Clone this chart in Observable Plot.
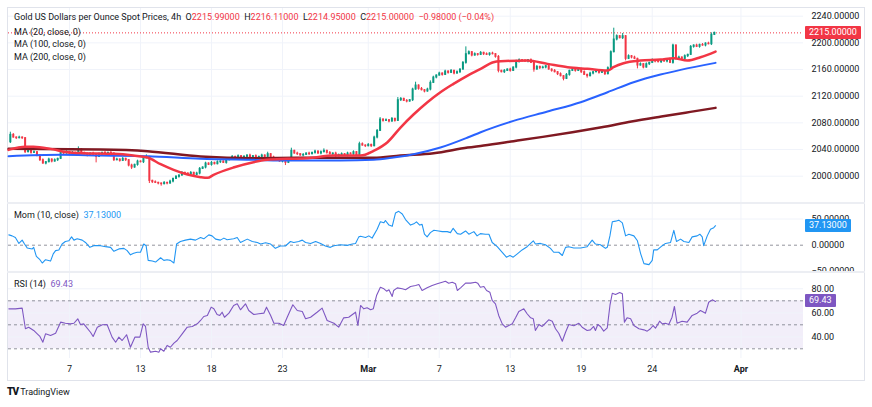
<!DOCTYPE html>
<html><head><meta charset="utf-8">
<script src="https://cdn.jsdelivr.net/npm/d3@7"></script>
<script src="https://cdn.jsdelivr.net/npm/@observablehq/plot@0.6"></script>
<style>
html,body{margin:0;padding:0;background:#fff;}
#wrap{position:relative;width:872px;height:407px;overflow:hidden;background:#fff;font-family:Roboto,"Liberation Sans",Arial,sans-serif;color:#131722;}
.pane{position:absolute;left:0;}
.pane svg{display:block;overflow:hidden;}
.lbl{position:absolute;font-size:9px;line-height:11px;white-space:nowrap;color:#131722;}
.box{position:absolute;left:805px;height:13px;line-height:13px;font-size:9px;color:#fff;padding:0 4px;border-radius:1px;}
.frame{position:absolute;left:7px;top:7px;width:858px;height:374px;box-sizing:border-box;border:1px solid #e0e3eb;}
.sep{position:absolute;left:7px;width:858px;height:2px;background:#eceef3;}
</style></head><body><div id="wrap"></div>
<script>
// ---- data ----
const firstOpen = 2051;
const closes = [
2062,2058,2057,2058,2057,2036,2038,2035,2036,2031,
2024,2019,2021,2025,2022,2024,2026,2035,2034,2036,
2033,2035,2034,2040,2035,2033,2031,2034,2032,2029,
2033,2035,2034,2035,2034,2024,2025,2023,2026,2024,
2016,2013,2017,2022,2021,2027,2029,1993,1991,1990,
1989,1988,1990,1989,1992,1996,1999,2001,2005,2004,
2003,2005,2002,2004,2011,2013,2019,2017,2020,2018,
2021,2022,2020,2024,2026,2029,2028,2030,2027,2029,
2031,2028,2030,2027,2029,2031,2029,2033,2028,2026,
2024,2022,2023,2020,2024,2038,2034,2033,2031,2032,
2034,2033,2035,2037,2034,2036,2038,2035,2033,2034,
2030,2032,2033,2031,2034,2033,2036,2032,2048,2046,
2045,2047,2045,2058,2068,2085,2083,2084,2082,2086,
2083,2114,2116,2113,2112,2114,2130,2136,2131,2129,
2127,2130,2140,2148,2151,2154,2152,2157,2155,2158,
2154,2156,2160,2170,2183,2186,2181,2183,2182,2185,
2183,2182,2184,2183,2179,2158,2156,2158,2160,2158,
2163,2171,2174,2173,2172,2174,2170,2160,2164,2162,
2163,2165,2160,2158,2156,2153,2150,2146,2152,2158,
2160,2158,2161,2156,2152,2150,2154,2156,2157,2155,
2157,2153,2162,2186,2205,2210,2207,2210,2176,2180,
2178,2176,2166,2168,2163,2168,2170,2174,2172,2171,
2174,2172,2175,2170,2196,2176,2178,2176,2180,2182,
2194,2196,2194,2197,2196,2199,2198,2212,2215];
const upWick = [
4,2,1,2,1,1,2,1,2,1, 1,2,1,2,1,2,1,2,1,2, 1,2,1,4,1,1,2,1,2,1, 2,1,2,1,2,1,2,1,2,1,
1,2,1,2,1,2,3,1,1,2, 1,1,2,1,2,1,2,1,2,1, 1,2,1,2,2,1,2,1,2,1, 2,1,1,2,1,2,1,2,1,2,
1,2,1,2,1,2,1,3,1,2, 1,2,1,1,2,4,1,2,1,2, 1,2,1,2,1,2,3,1,2,1, 2,1,2,1,2,1,2,1,3,2,
1,2,1,2,2,3,1,2,1,2, 1,4,2,1,2,1,2,5,1,2, 1,2,3,2,1,2,1,2,1,2, 1,2,1,2,11,2,1,2,1,2,
1,2,1,2,1,2,1,2,1,2, 1,3,2,1,2,1,2,1,2,1, 2,1,2,1,2,1,2,1,2,1, 2,1,2,1,2,1,2,1,2,1,
2,1,2,2,17,2,1,4,1,2, 1,2,1,2,1,2,1,2,1,2, 1,2,1,2,2,1,2,1,2,1, 2,1,2,1,2,1,2,3,1];
const downWick = [
2,1,2,1,2,2,1,2,1,2, 2,1,2,1,2,1,2,1,2,1, 2,1,2,1,2,1,2,1,2,9, 1,2,1,2,1,2,1,2,1,2,
2,3,1,2,1,2,1,4,2,1, 2,3,1,2,1,2,1,2,1,2, 2,1,2,1,2,1,2,1,2,1, 1,2,1,2,1,2,1,2,1,2,
2,1,2,1,2,1,2,1,2,1, 2,1,2,4,1,2,1,2,1,2, 1,2,1,2,1,2,1,2,1,2, 2,1,2,1,2,1,2,1,2,1,
2,1,2,1,2,1,2,1,2,1, 2,1,2,1,2,1,2,1,2,1, 2,1,2,1,2,1,2,1,2,1, 2,1,2,1,2,1,2,1,2,1,
2,1,2,1,2,3,1,2,1,2, 1,2,1,2,1,2,1,4,1,2, 1,2,1,2,1,2,1,3,1,2, 1,2,1,2,1,3,1,2,1,2,
1,2,1,2,1,2,1,2,3,1, 2,1,5,1,2,1,2,1,2,1, 2,1,2,1,2,2,1,2,1,2, 1,2,1,2,1,2,1,2,1];
const firstIndex = -20;

const ma20Idx = [-20.6,-14.9,-12.2,-6.4,-0.7,4.7,14.9,21.6,26.4,30.8,35.2,39.9,44.3,46.7,48.7,55.4,62.2,66.9,73.7,80.5,89.2,98.4,102.8,107.5,111.9,116.3,121,125.4,129.8,134.6,139,143.3,145.7,154.8,161.6,168.4,175.1,181.9,183.9,187.3,193,199.8,204.2,208.9,213.3,218.4];
const ma20Val = [2039.5,2044,2044,2041,2036,2034.5,2033.5,2031,2028,2018,2009.5,2002.5,1998.5,1997.5,2002,2013,2021,2024.5,2026,2027,2031,2031,2038,2051,2073,2092.5,2111,2126,2138.5,2151,2161,2171,2172.5,2173.5,2168.5,2163.5,2161,2158.5,2163.5,2169.5,2173.5,2175,2177,2173.5,2178.5,2187];
const ma100Idx = [-20.6,-3,10.5,26.4,44.3,62.2,74.7,91.6,102.8,109.5,116.3,125.4,134.6,139,150.1,161.6,172.8,181.9,190.7,199.8,206.6,218.4];
const ma100Val = [2030,2032,2031,2030,2026,2024.5,2023.5,2023.5,2024.5,2028,2033,2043,2058,2066,2083,2097,2111,2126,2141,2152.5,2159.5,2170];
const ma200Idx = [-20.6,10.5,26.4,44.3,62.2,78.1,102.8,111.9,123.1,134.6,140,150.1,160,170,179.9,190,200.1,209.9,218.4];
const ma200Val = [2041,2040,2037.5,2029.5,2027,2027.5,2027.5,2031,2034.5,2043,2046,2052.5,2059,2066,2073.5,2082,2089.5,2096.5,2102.5];

const momIdx = [-20.5,-19.4,-18.3,-17.1,-16,-15.2,-14.3,-12.6,-12.1,-11.2,-10,-9.2,-8.1,-6.4,-5.5,-4.7,-3.6,-2.5,-1.4,-0.2,0.7,1.5,2.6,4.3,5.4,6.9,8.2,10.5,12.2,13.9,15,16.7,18.4,19.5,20.6,21.7,22.9,24,25.1,25.9,26.6,28,29.1,30.8,31.9,33,34.1,35.3,36.2,37.5,39.2,40.9,42.6,44.3,45.4,47.1,48.2,49.4,51,52.2,53.3,55.5,56.7,57.8,60.1,61.8,63.5,64.6,66.3,68,69.6,71.3,73,74.7,75.8,77.5,78.7,79.8,81.5,83.2,84.9,86.5,88.2,89.4,91.6,93.9,95.6,96.7,97.8,
98.4,100.1,101.2,102.3,104,105.1,106.3,106.8,108,109.1,110.2,111.3,112.5,113.6,115.3,116.4,117.3,118.4,119.2,120,120.9,122,123.2,124.8,126,127.7,128.8,129.7,131.1,132.2,133.9,135,136.7,137.8,138.9,140.6,141.8,142.9,144.6,146.3,147.7,148.9,150,151.4,153,154.7,156.8,157.5,159.2,160.9,162.6,163.7,165.4,166.6,167.7,168.8,170.5,172.8,175,176.7,177.8,179.5,181.2,181.8,182.7,183.5,184.6,185.7,186.9,188,189.1,190.8,192,193.1,194.2,195.9,197,197.5,198.7,200.4,201.5,203.2,204.3,205.2,206.6,207.7,209.4,210.5,212.2,213.1,213.9,214.4,215.6,216.7,217.8,218.4];
const momVal = [19.7,17.8,14.6,3.4,9.7,2.2,-5.2,-7.1,-4.1,-21.5,-27.7,-34,-27.7,-30.3,-16.5,-10.3,-9,2.2,7.1,8.4,15.9,9.7,12.2,9.7,5.2,-4.1,-0.9,-0.9,-2.8,-4.1,-11.6,-7.1,-6,-10.3,-18.4,-15.4,-13.5,-13.5,2.2,-0.9,-29,-30.3,-32.2,-24,-29,-27.7,-29,-34,2.2,7.1,9.7,11.6,9.7,14.6,12.2,19.7,17.8,11.6,9.7,13.5,10.3,12.2,14.6,5.2,11.6,7.1,5.2,2.2,4.7,2.2,-6,-1.5,-1.5,7.1,5.2,7.1,9.7,5.2,3.4,7.1,3.4,-1.5,-4.1,-0.9,0.9,-0.3,2.2,3.4,15.9,
17,14.6,17.8,13.5,30.3,44.6,42.7,47.2,38.4,36,61.4,64.6,59.6,49,38.4,40.8,44.6,38.4,39.7,21,15.9,24,28.5,27.2,25.9,25.9,24,32.2,22.1,21,27.2,21,25.9,17.8,22.1,21,21,5.2,-2.8,-13.5,-22.8,-19.7,-22.8,-16.5,-9,-2.8,8.4,2.2,3.4,0.9,-6,-13.5,-13.5,-19.7,-4.1,-2.8,-5.2,-5.2,-2.8,9.7,2.2,0.9,-6,-4.1,17.8,44.6,45.9,47.8,42.7,17.8,21,17.8,8.4,-16.5,-35.2,-37.1,-29,-9,-9,-0.9,3.4,5.2,28.5,7.1,11.6,7.1,5.2,15.9,17.8,21,15.9,-0.9,17.8,30.3,33.5,37.13];

const rsiIdx = [-20.5,-18.3,-16,-15.7,-14.9,-13.8,-12.1,-10.9,-10,-9,-8.1,-6.4,-4.7,-3,-1.4,0.3,1.5,2.8,3.7,4.8,5.7,7.1,8,9.4,11.1,12.7,14.4,15.6,16.7,17.8,19.3,20.6,22.1,23.8,24.9,25.7,26.6,27.4,29.1,30.2,30.8,31.9,33,34.1,35.3,36.4,38.1,39.8,41.5,43.2,44.3,45.4,46.6,47.9,48.8,49.9,50.8,51.6,52.4,53.9,55.5,56.7,57.8,59.5,60.6,62.3,64,65.7,66.6,68,69.1,70.8,72.4,73.6,75.5,77,78.7,79.8,81.5,83.7,85.4,87.1,89.4,91,92.7,94.4,96.7,97.5,
98.4,99.5,100.6,101.8,102.7,103.8,105.1,106.3,107.2,108,109.1,109.6,110.8,112.5,113.6,115.3,117,118.1,119.2,120.9,122.6,124.3,126,127.1,128.2,129.4,130.5,131.1,132.2,133.9,135.6,137.3,138,138.9,140.1,141,142.1,142.9,144,145.1,146.3,147.4,148.5,149.7,150.8,151.9,153.6,154.7,155.9,156.8,157.5,158.7,159.8,160.9,162,163.2,164.3,165.4,166.6,167.7,168.8,170.5,172.2,173.3,175,176.1,177.2,177.8,178.6,179.5,180.6,181.8,182.7,183.5,184.6,186,186.9,187.6,188.5,189.7,190.8,192.5,194.2,195.3,196.4,197.3,198.1,199.5,200.4,201.5,202.6,203.7,204.5,205.4,207.1,208.8,210.5,212.2,213.3,214.4,215,216.1,217.3,218.4];
const rsiVal = [63.3,63.3,63.9,59.2,46.7,48,45.3,42.5,40.3,35.5,42.5,41.1,43,52.2,51.3,50.8,51.3,55,50.3,50.8,48,43.8,40.3,48,50,50.3,39.7,35.5,39.7,36.9,41.7,31.3,39.7,39.7,50.8,48.6,31.3,27.2,28,27.2,30,28,32.8,31.3,34.7,36.9,42.5,48,48.6,50.8,53.6,56.9,57.8,64.7,63.3,58.6,57.8,60.5,56.3,59.7,66.1,67.5,62.5,67.5,61.9,58.6,59.2,59.7,64.7,57.8,51.3,51.3,49.4,56.3,66.7,61.9,61.1,55,56.3,60.5,63.9,53.6,51.3,48,55.8,56.3,60.5,49.4,
66.1,63.3,64.2,62.5,63.3,74.4,81.3,80,78,79.2,73.6,78.6,80.8,80,79.2,81.9,82.8,83.6,78.6,80.8,82.8,84.2,85.5,86.3,84.7,85.5,84.2,78.6,80.8,84.7,84.7,85.5,84.7,81.3,81.9,78.6,77.2,70.3,67.5,57.8,50.8,48,49.4,50.8,55.8,61.1,63.3,59.2,55.8,55,45.3,50.3,48.6,51.3,54.2,53,46.7,43,36.3,43.8,50.3,49.2,51.3,48,45.3,45.8,48.6,45.3,50.3,48.6,44.7,47.5,66.1,76.3,75.3,76.9,75.8,52.2,55.8,55,49.4,46.7,45.8,44.7,46.7,49.4,47.2,53,50.8,51.3,50.3,56.3,65.3,51.3,53,52.2,57.8,59.7,61.9,60.5,59.7,68.8,70.8,69.43];

const tickIdx = [0,24,48,72,101,125,149,173,197,227];
const tickLabels = ["7","13","18","23","Mar","7","13","19","24","Apr"];
const monthLabels = ["Mar","Apr"];
const priceTicks = [2000,2040,2080,2120,2160,2200,2240];
const momTicks = [50,0,-50];
const rsiTicks = [80,60,40];
const rsiLevels = [70,50,30];
const rsiBand = [{lo:30, hi:70}];
const ohlcKeys = ["O","H","L","C"];
const ohlcVals = [2215.99, 2216.11, 2214.95, 2215.00];
const lastChange = [-0.98, -0.04];
const lastMom = 37.13, lastRsi = 69.43;

// ---- styling ----
const GREEN="#089981", RED="#f23645", GRID="#f0f3fa", DARK="#131722";
const MOMC="#2196f3", RSIC="#7e57c2";
const FONT="Roboto, 'Liberation Sans', Arial, sans-serif";
const xDomain=[-20.62,248.14];
const wrap=document.getElementById("wrap");
const fmt = (v,n) => (v<0?"\u2212":"") + Math.abs(v).toFixed(n);

function addPane(svg, top){ const d=document.createElement("div"); d.className="pane"; d.style.top=top+"px"; d.appendChild(svg); wrap.appendChild(d); return svg; }
function addDiv(cls, css, html){ const d=document.createElement("div"); d.className=cls; Object.assign(d.style, css); if(html!=null) d.innerHTML=html; wrap.appendChild(d); return d; }

const common = {width:872, marginLeft:8, marginRight:69, marginTop:0, marginBottom:0,
  x:{domain:xDomain, axis:null},
  style:{background:"transparent", overflow:"hidden", fontFamily:FONT, fontSize:"9px", color:DARK}};

addDiv("frame", {});

const candles = closes.map((c,k)=>{
  const o = k===0 ? firstOpen : closes[k-1];
  const top=Math.max(o,c), bot=Math.min(o,c);
  return {i:firstIndex+k, top, bot, h:top+upWick[k], l:bot-downWick[k], col: c>=o?GREEN:RED};
});

// ---- price pane ----
const PTOP=8;
const price = addPane(Plot.plot({...common, height:195,
  y:{domain:[1959.05,2251.55], axis:null},
  marks:[
    Plot.gridX(tickIdx, {stroke:GRID, strokeOpacity:1}),
    Plot.gridY(priceTicks, {stroke:GRID, strokeOpacity:1}),
    Plot.ruleY([ohlcVals[3]], {stroke:RED, strokeDasharray:"1,2", strokeWidth:1}),
    Plot.ruleX(candles, {x:"i", y1:"h", y2:"l", stroke:"col", strokeWidth:1}),
    Plot.ruleX(candles, {x:"i", y1:"top", y2:"bot", stroke:"col", strokeWidth:2, insetTop:-0.5, insetBottom:-0.5}),
    Plot.line(ma200Val, {x:ma200Idx, y:ma200Val, stroke:"#801922", strokeWidth:2.5, curve:"monotone-x"}),
    Plot.line(ma100Val, {x:ma100Idx, y:ma100Val, stroke:"#2962ff", strokeWidth:2, curve:"monotone-x"}),
    Plot.line(ma20Val, {x:ma20Idx, y:ma20Val, stroke:RED, strokeWidth:2.5, curve:"monotone-x"}),
    Plot.axisY({anchor:"right", ticks:priceTicks, tickSize:0, tickPadding:8, tickFormat:d=>d.toFixed(5), fontSize:9, color:DARK})
  ]}), PTOP);

// ---- momentum pane ----
const MTOP=203;
const mom = addPane(Plot.plot({...common, height:68,
  y:{domain:[-50.2,79.6], axis:null},
  marks:[
    Plot.gridX(tickIdx, {stroke:GRID, strokeOpacity:1}),
    Plot.gridY([50,-50], {stroke:GRID, strokeOpacity:1}),
    Plot.ruleY([0], {stroke:"#787b86", strokeDasharray:"3,3", strokeOpacity:0.8}),
    Plot.line(momVal, {x:momIdx, y:momVal, stroke:MOMC, strokeWidth:1.1}),
    Plot.axisY({anchor:"right", ticks:momTicks, tickSize:0, tickPadding:8, tickFormat:d=>fmt(d,5), fontSize:9, color:DARK})
  ]}), MTOP);

// ---- RSI pane ----
const RTOP=272;
const rsi = addPane(Plot.plot({...common, height:86,
  y:{domain:[21.92,93.58], axis:null},
  marks:[
    Plot.rect(rsiBand, {y1:"lo", y2:"hi", fill:RSIC, fillOpacity:0.1}),
    Plot.gridX(tickIdx, {stroke:GRID, strokeOpacity:1}),
    Plot.gridY(rsiTicks, {stroke:GRID, strokeOpacity:1}),
    Plot.ruleY(rsiLevels, {stroke:"#787b86", strokeDasharray:"3,3", strokeOpacity:0.8}),
    Plot.line(rsiVal, {x:rsiIdx, y:rsiVal, stroke:RSIC, strokeWidth:1.1}),
    Plot.axisY({anchor:"right", ticks:rsiTicks, tickSize:0, tickPadding:8, tickFormat:d=>d.toFixed(2), fontSize:9, color:DARK})
  ]}), RTOP);

// ---- time axis ----
const dayIdx = tickIdx.filter((d,k)=>!monthLabels.includes(tickLabels[k]));
const monIdx = tickIdx.filter((d,k)=>monthLabels.includes(tickLabels[k]));
addPane(Plot.plot({...common, height:22,
  marks:[
    Plot.text(dayIdx, {x:d=>d, text:d=>tickLabels[tickIdx.indexOf(d)], frameAnchor:"middle", fontSize:9, fill:DARK}),
    Plot.text(monIdx, {x:d=>d, text:d=>tickLabels[tickIdx.indexOf(d)], frameAnchor:"middle", fontSize:9, fontWeight:700, fill:DARK})
  ]}), 358);

// separators
addDiv("sep", {top:"202px"});
addDiv("sep", {top:"271px"});

// ---- legends ----
const red = s => `<span style="color:${RED}">${s}</span>`;
let ohlc = ohlcKeys.map((k,j)=>`${k}${red(ohlcVals[j].toFixed(5))}`).join("&nbsp;&nbsp;");
addDiv("lbl", {left:"14px", top:"12px"},
  `Gold US Dollars per Ounce Spot Prices, 4h&nbsp;&nbsp;${ohlc}&nbsp;&nbsp;${red(fmt(lastChange[0],5)+" ("+fmt(lastChange[1],2)+"%)")}`);
["MA (20, close, 0)","MA (100, close, 0)","MA (200, close, 0)"].forEach((t,j)=>
  addDiv("lbl", {left:"14px", top:(26.5+j*12.7)+"px"}, t));
addDiv("lbl", {left:"14px", top:"210px"}, `Mom (10, close)&nbsp;&nbsp;<span style="color:${MOMC}">${lastMom.toFixed(5)}</span>`);
addDiv("lbl", {left:"14px", top:"279px"}, `RSI (14)&nbsp;&nbsp;<span style="color:${RSIC}">${lastRsi.toFixed(2)}</span>`);

// ---- last value boxes (positioned with the plots' own scales) ----
const yP = price.scale("y").apply(ohlcVals[3]) + PTOP;
addDiv("box", {top:(yP-6.5)+"px", background:RED}, ohlcVals[3].toFixed(5));
const yM = mom.scale("y").apply(lastMom) + MTOP;
addDiv("box", {top:(yM-6.5)+"px", background:MOMC}, lastMom.toFixed(5));
const yR = rsi.scale("y").apply(lastRsi) + RTOP;
addDiv("box", {top:(yR-6.5)+"px", background:RSIC}, lastRsi.toFixed(2));

// ---- logo ----
addDiv("lbl", {left:"7px", top:"386px", fontSize:"9px"},
  `<b style="font-weight:900;letter-spacing:-1px;font-size:10px">TV</b>&nbsp;TradingView`);
</script></body></html>
